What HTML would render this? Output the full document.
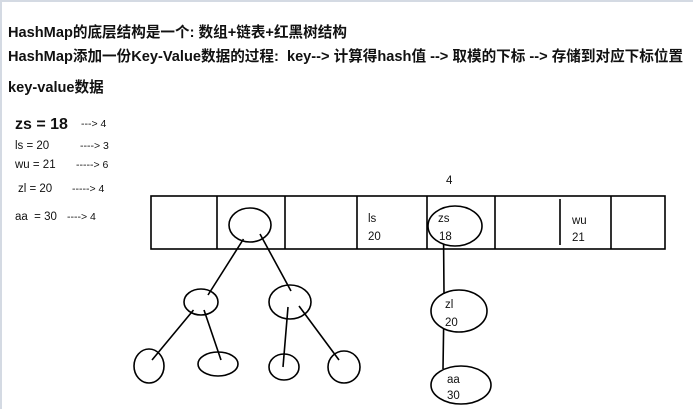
<!DOCTYPE html>
<html><head><meta charset="utf-8"><style>
body{margin:0;width:693px;height:409px;overflow:hidden;background:#fff;position:relative;font-family:"Liberation Sans","Noto Sans CJK SC",sans-serif;}
.h{position:absolute;left:8px;font-weight:bold;font-size:14.6px;color:#111;white-space:nowrap;line-height:16px}
.t{position:absolute;font-size:11.5px;color:#111;white-space:nowrap;line-height:12px}
</style></head><body>
<div style="position:absolute;left:0;top:0;width:693px;height:2px;background:#d4dae3"></div>
<div style="position:absolute;left:0;top:0;width:2px;height:409px;background:#d4dae3"></div>
<div class="h" style="top:25px">HashMap的底层结构是一个: 数组+链表+红黑树结构</div>
<div class="h" style="top:49px">HashMap添加一份Key-Value数据的过程:&nbsp; key--&gt; 计算得hash值 --&gt; 取模的下标 --&gt; 存储到对应下标位置</div>
<div class="h" style="top:80px">key-value数据</div>
<div class="t" style="left:15px;top:116px;font-size:16px;font-weight:bold;line-height:18px">zs = 18</div>
<div class="t" style="left:81px;top:118px;font-size:10.5px">---&gt; 4</div>
<div class="t" style="left:15px;top:140px">ls = 20</div>
<div class="t" style="left:80px;top:140px;font-size:10.5px">----&gt; 3</div>
<div class="t" style="left:15px;top:159px">wu = 21</div>
<div class="t" style="left:76px;top:159px;font-size:10.5px">-----&gt; 6</div>
<div class="t" style="left:18px;top:183px">zl = 20</div>
<div class="t" style="left:72px;top:183px;font-size:10.5px">-----&gt; 4</div>
<div class="t" style="left:15px;top:211px">aa&nbsp; = 30</div>
<div class="t" style="left:67px;top:211px;font-size:10.5px">----&gt; 4</div>
<svg width="693" height="409" style="position:absolute;left:0;top:0" fill="none" stroke="#000" stroke-width="1.6">
<rect x="151" y="196" width="514" height="53"/>
<path d="M217 196V249M285 196V249M357 196V249M427 196V249M495 196V249M560 199V245M611 196V249"/>
<ellipse cx="250" cy="225" rx="21" ry="17"/>
<ellipse cx="455" cy="226" rx="27" ry="20"/>
<ellipse cx="201" cy="302" rx="17" ry="13"/>
<ellipse cx="290" cy="302" rx="21" ry="17"/>
<ellipse cx="149" cy="366" rx="15" ry="17"/>
<ellipse cx="218" cy="364" rx="20" ry="12"/>
<ellipse cx="284" cy="367" rx="15" ry="13"/>
<ellipse cx="344" cy="367" rx="16" ry="16"/>
<ellipse cx="459" cy="311" rx="28" ry="21"/>
<ellipse cx="461" cy="385" rx="30" ry="19"/>
<path d="M243.5 239L208 295M260 234L291 291M193.5 310L152 360M204 310L221 360M288 307L283 367M299 306L339 360M443.6 244L444 294M443.6 329L443 369"/>
<g fill="#111" stroke="none" font-family="Liberation Sans,sans-serif" font-size="11.5">
<text x="446" y="184">4</text>
<text x="368" y="222">ls</text><text x="368" y="240">20</text>
<text x="438" y="222">zs</text><text x="439" y="240">18</text>
<text x="572" y="224">wu</text><text x="572" y="241">21</text>
<text x="445" y="308">zl</text><text x="445" y="326">20</text>
<text x="447" y="383">aa</text><text x="447" y="399">30</text>
</g>
</svg>
</body></html>
